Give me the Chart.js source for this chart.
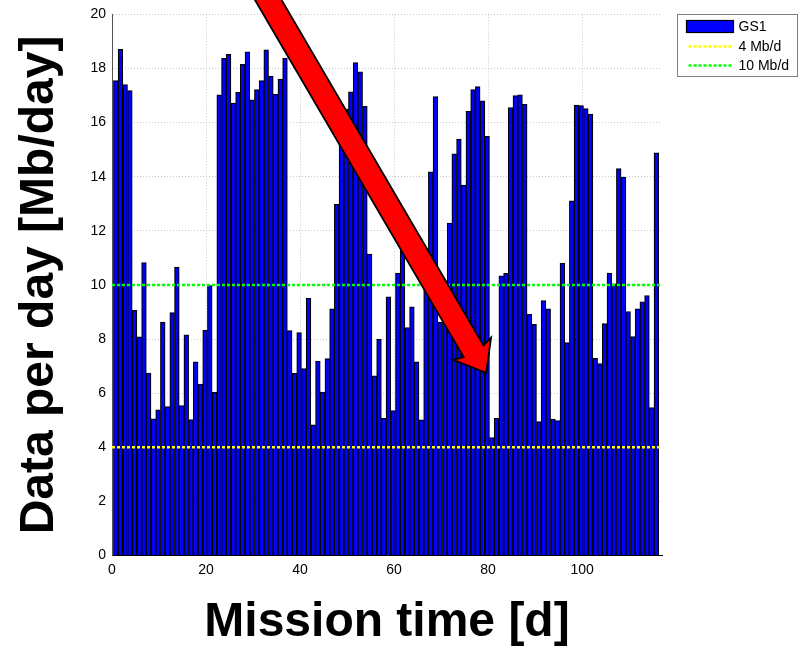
<!DOCTYPE html>
<html>
<head>
<meta charset="utf-8">
<script src="https://cdn.jsdelivr.net/npm/chart.js@4.4.1/dist/chart.umd.min.js"></script>
<style>
  html, body { margin: 0; padding: 0; background: #fff; }
  canvas { display: block; }
</style>
</head>
<body>
<canvas id="chart" width="806" height="649"></canvas>
<script>
// one bar per mission day
const firstDay = 0.8;
const dataPerDay = [
  17.55, 18.71, 17.41, 17.18, 9.06, 8.08, 10.83, 6.74, 5.05, 5.38,
  8.63, 5.50, 8.98, 10.66, 5.54, 8.16, 5.02, 7.16, 6.34, 8.33,
  9.98, 6.03, 17.03, 18.38, 18.52, 16.72, 17.12, 18.15, 18.62, 16.84,
  17.22, 17.55, 18.69, 17.72, 17.05, 17.61, 18.39, 8.31, 6.73, 8.24,
  6.91, 9.51, 4.83, 7.19, 6.04, 7.28, 9.12, 12.98, 16.50, 16.50,
  17.14, 18.22, 17.88, 16.60, 11.14, 6.64, 7.99, 5.07, 9.56, 5.36,
  10.44, 11.40, 8.42, 9.19, 7.16, 5.01, 10.80, 14.18, 16.96, 8.63,
  8.63, 12.29, 14.85, 15.39, 13.69, 16.42, 17.22, 17.33, 16.81, 15.49,
  4.36, 5.07, 10.34, 10.43, 16.56, 17.00, 17.03, 16.68, 8.91, 8.54,
  4.95, 9.42, 9.12, 5.04, 4.99, 10.81, 7.87, 13.11, 16.65, 16.63,
  16.52, 16.32, 7.29, 7.09, 8.57, 10.44, 10.04, 14.30, 13.99, 9.02,
  8.09, 9.12, 9.38, 9.61, 5.47, 14.88
];
const days = dataPerDay.map((v, i) => firstDay + i);

const xTicks = [0, 20, 40, 60, 80, 100];
const yTicks = [0, 2, 4, 6, 8, 10, 12, 14, 16, 18, 20];
const xMax = 117;

const thresholds = [4, 10];
const thresholdLabels = ['4 Mb/d', '10 Mb/d'];
const thresholdColors = ['#ffff00', '#00ff00'];

// red arrow, in data units (tail sits above the plot)
const arrowTail = [31.0, 21.2];
const arrowTip = [79.6, 6.75];

const FONT = '"Liberation Sans", Arial, Helvetica, sans-serif';

const thresholdSets = thresholds.map((t, i) => ({
  type: 'line',
  label: thresholdLabels[i],
  data: [{ x: 0, y: t }, { x: xMax, y: t }],
  borderColor: thresholdColors[i],
  borderWidth: 2.5,
  borderDash: [3, 2],
  pointRadius: 0,
  fill: false,
  order: 0
}));

const boxLegend = {
  id: 'boxLegend',
  afterDraw(chart) {
    const ctx = chart.ctx;
    const area = chart.chartArea;
    const x0 = Math.round(area.right) + 15.5;
    const y0 = Math.round(area.top) + 0.5;
    ctx.save();
    ctx.fillStyle = '#fff';
    ctx.fillRect(x0, y0, 120, 62);
    ctx.strokeStyle = '#808080';
    ctx.lineWidth = 1;
    ctx.strokeRect(x0, y0, 120, 62);
    ctx.font = '14px ' + FONT;
    ctx.textBaseline = 'middle';
    const rows = [12, 32, 51];
    chart.data.datasets.forEach((ds, i) => {
      const cy = y0 + rows[i];
      if (ds.type === 'line') {
        ctx.strokeStyle = ds.borderColor;
        ctx.lineWidth = 2.5;
        ctx.setLineDash([3, 2]);
        ctx.beginPath();
        ctx.moveTo(x0 + 11, cy);
        ctx.lineTo(x0 + 55, cy);
        ctx.stroke();
        ctx.setLineDash([]);
      } else {
        ctx.fillStyle = ds.backgroundColor;
        ctx.fillRect(x0 + 9, cy - 6, 47, 12);
        ctx.strokeStyle = '#000';
        ctx.lineWidth = 1.2;
        ctx.strokeRect(x0 + 9, cy - 6, 47, 12);
      }
      ctx.fillStyle = '#000';
      ctx.fillText(ds.label, x0 + 61, cy + 0.5);
    });
    ctx.restore();
  }
};

const arrowPlugin = {
  id: 'arrow',
  afterDraw(chart) {
    const { x, y } = chart.scales;
    const ctx = chart.ctx;
    const tx = x.getPixelForValue(arrowTail[0]), ty = y.getPixelForValue(arrowTail[1]);
    const hx = x.getPixelForValue(arrowTip[0]), hy = y.getPixelForValue(arrowTip[1]);
    const len = Math.hypot(hx - tx, hy - ty);
    const ux = (hx - tx) / len, uy = (hy - ty) / len;
    const nx = -uy, ny = ux;
    const shaft = 11.5, head = 22, headLen = 25;
    const bx = hx - ux * headLen, by = hy - uy * headLen;
    ctx.save();
    ctx.beginPath();
    ctx.moveTo(tx + nx * shaft, ty + ny * shaft);
    ctx.lineTo(bx + nx * shaft, by + ny * shaft);
    ctx.lineTo(bx + nx * head - ux * 3, by + ny * head - uy * 3);
    ctx.lineTo(hx, hy);
    ctx.lineTo(bx - nx * head - ux * 3, by - ny * head - uy * 3);
    ctx.lineTo(bx - nx * shaft, by - ny * shaft);
    ctx.lineTo(tx - nx * shaft, ty - ny * shaft);
    ctx.closePath();
    ctx.fillStyle = '#ff0000';
    ctx.fill();
    ctx.lineWidth = 1.8;
    ctx.lineJoin = 'miter';
    ctx.strokeStyle = '#000';
    ctx.stroke();
    ctx.restore();
  }
};

new Chart(document.getElementById('chart'), {
  type: 'bar',
  data: {
    datasets: [
      {
        label: 'GS1',
        data: days.map((d, i) => ({ x: d, y: dataPerDay[i] })),
        backgroundColor: '#0000ff',
        borderColor: '#000',
        borderWidth: 1.2,
        barPercentage: 1,
        categoryPercentage: 1,
        order: 1
      },
      ...thresholdSets
    ]
  },
  options: {
    responsive: false,
    animation: false,
    devicePixelRatio: 1,
    layout: { padding: { left: 0, right: 144, top: 11.5, bottom: 0 } },
    plugins: { legend: { display: false }, tooltip: { enabled: false } },
    scales: {
      x: {
        type: 'linear',
        min: 0,
        max: xMax,
        offset: false,
        afterBuildTicks: s => { s.ticks = xTicks.map(v => ({ value: v })); },
        afterFit: s => { s.height = 93.5; },
        ticks: { color: '#000', padding: 6, maxRotation: 0, font: { family: FONT, size: 14 } },
        grid: { color: '#c8c8c8', lineWidth: 1, drawTicks: false, offset: false },
        border: { display: true, color: '#000', width: 1, dash: [1, 2] },
        title: {
          display: true,
          text: 'Mission time [d]',
          color: '#000',
          font: { family: FONT, size: 48, weight: 'bold', lineHeight: 1 },
          padding: { top: 0, bottom: 2 }
        }
      },
      y: {
        min: 0,
        max: 20,
        afterBuildTicks: s => { s.ticks = yTicks.map(v => ({ value: v })); },
        afterFit: s => { s.width = 112; },
        ticks: { color: '#000', padding: 6, font: { family: FONT, size: 14 } },
        grid: { color: '#c8c8c8', lineWidth: 1, drawTicks: false },
        border: { display: true, color: '#555', width: 1, dash: [1, 2] },
        title: {
          display: true,
          text: 'Data per day [Mb/day]',
          color: '#000',
          font: { family: FONT, size: 48, weight: 'bold', lineHeight: 1 },
          padding: { top: 16, bottom: 0 }
        }
      }
    }
  },
  plugins: [boxLegend, arrowPlugin]
});
</script>
</body>
</html>
